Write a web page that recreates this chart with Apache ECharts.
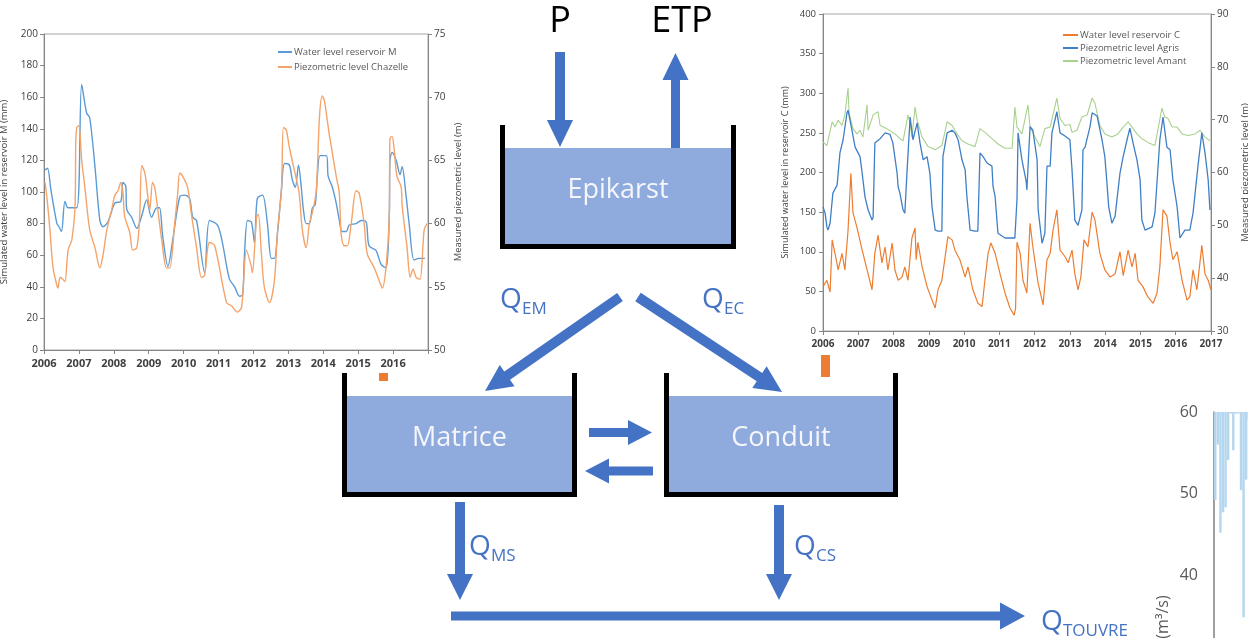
<!DOCTYPE html>
<html><head><meta charset="utf-8">
<script src="https://cdn.jsdelivr.net/npm/echarts@6/dist/echarts.min.js"></script>
<style>html,body{margin:0;padding:0;background:#fff}#c{width:1248px;height:638px}</style>
</head><body><div id="c"></div>
<script>
// ---- Left chart: reservoir M (mm) and Chazelle piezometric level (m)
const resM = [[2006.03,114],[2006.1,115],[2006.2,101],[2006.37,80],[2006.43,78],[2006.5,75],[2006.6,94],[2006.69,90],[2006.94,90],[2007.08,168],[2007.22,150],[2007.31,147],[2007.46,116],[2007.6,82],[2007.69,78],[2007.83,81],[2008.03,93],[2008.2,94],[2008.26,106],[2008.34,104],[2008.37,89],[2008.51,84],[2008.66,77],[2008.8,85],[2008.94,95],[2009.08,84],[2009.23,90],[2009.31,90],[2009.4,72],[2009.55,53],[2009.69,70],[2009.89,97],[2010.03,98],[2010.17,96],[2010.26,84],[2010.37,82],[2010.6,49],[2010.74,82],[2010.97,79],[2011.11,68],[2011.31,45],[2011.46,40],[2011.6,34],[2011.69,35],[2011.74,59],[2011.83,82],[2011.94,81],[2012.03,68],[2012.11,96],[2012.26,98],[2012.4,80],[2012.51,58],[2012.6,58],[2012.69,74],[2012.8,101],[2012.89,118],[2013.03,117],[2013.11,108],[2013.2,103],[2013.29,117],[2013.37,103],[2013.43,89],[2013.51,80],[2013.6,80],[2013.69,90],[2013.77,92],[2013.83,110],[2013.91,123],[2014.09,123],[2014.14,110],[2014.26,103],[2014.37,93],[2014.46,82],[2014.54,75],[2014.66,75],[2014.74,79],[2014.94,80],[2015.09,82],[2015.23,81],[2015.31,66],[2015.51,63],[2015.66,54],[2015.8,52],[2015.89,84],[2015.91,120],[2015.97,125],[2016.09,120],[2016.2,111],[2016.26,116],[2016.37,98],[2016.46,80],[2016.6,57],[2016.74,58],[2016.91,58]];
const chazelle = [[2006.03,63.25],[2006.09,61.9],[2006.17,59.5],[2006.26,56.5],[2006.37,55.1],[2006.4,54.9],[2006.46,55.75],[2006.54,55.6],[2006.6,55.4],[2006.69,57.9],[2006.8,58.75],[2006.89,61.4],[2006.91,66.4],[2006.94,67.6],[2007.0,67.75],[2007.08,65],[2007.17,62.9],[2007.31,59.5],[2007.46,58.1],[2007.6,56.5],[2007.69,57.5],[2007.8,59.5],[2007.94,61.1],[2008.03,62.25],[2008.12,62.6],[2008.2,63.25],[2008.26,62.5],[2008.31,60.6],[2008.46,59.25],[2008.54,57.9],[2008.66,58.1],[2008.74,60.5],[2008.8,64.6],[2008.89,64],[2008.97,62.25],[2009.03,61.1],[2009.11,63.25],[2009.17,62.9],[2009.26,61.1],[2009.37,58.75],[2009.51,56.5],[2009.6,56.5],[2009.74,59.9],[2009.83,62.4],[2009.89,64],[2009.97,63.75],[2010.11,62.9],[2010.23,60.6],[2010.37,58.1],[2010.51,55.75],[2010.6,55.9],[2010.69,58.1],[2010.74,58.5],[2010.89,58.25],[2011.23,53.75],[2011.37,53.5],[2011.54,53],[2011.66,53.4],[2011.8,57.9],[2011.94,56.6],[2011.97,56.1],[2012.09,60.5],[2012.14,60.75],[2012.23,57.5],[2012.31,55],[2012.46,53.75],[2012.6,55.5],[2012.69,59.4],[2012.8,62.6],[2012.86,67.6],[2012.94,67.4],[2013.03,66],[2013.23,63.5],[2013.31,62.4],[2013.4,59.5],[2013.51,58.1],[2013.6,60],[2013.69,60.9],[2013.8,62.6],[2013.89,68.4],[2013.97,70.1],[2014.03,69.75],[2014.17,67.1],[2014.26,65.6],[2014.37,63.75],[2014.46,62.4],[2014.51,59.25],[2014.6,58.25],[2014.69,58.25],[2014.8,60],[2014.94,62.6],[2015.03,62.4],[2015.17,60],[2015.26,57.6],[2015.46,56.5],[2015.6,55.5],[2015.69,54.9],[2015.8,56.6],[2015.89,60.5],[2015.91,66.75],[2015.97,66.9],[2016.03,65.9],[2016.11,63.75],[2016.23,62.9],[2016.26,61.4],[2016.4,58.1],[2016.49,55.75],[2016.57,56.4],[2016.66,55.75],[2016.77,55.6],[2016.89,59.5],[2016.97,60]];
// ---- Right chart: reservoir C (mm), Agris and Amant piezometric levels (m)
const resC = [[2006.0,56],[2006.11,64],[2006.2,49],[2006.26,115],[2006.34,98],[2006.43,77],[2006.54,98],[2006.62,77],[2006.71,127],[2006.79,199],[2006.85,149],[2006.96,131],[2007.11,102],[2007.25,77],[2007.39,52],[2007.47,98],[2007.56,121],[2007.67,86],[2007.76,106],[2007.84,77],[2007.96,111],[2008.04,77],[2008.13,64],[2008.24,68],[2008.32,81],[2008.41,64],[2008.52,117],[2008.61,130],[2008.64,90],[2008.69,112],[2008.81,81],[2008.95,56],[2009.09,39],[2009.18,29],[2009.26,52],[2009.37,64],[2009.46,93],[2009.54,119],[2009.66,115],[2009.74,102],[2009.88,90],[2010.03,68],[2010.11,81],[2010.25,52],[2010.39,35],[2010.51,31],[2010.59,64],[2010.68,98],[2010.76,111],[2010.88,98],[2011.02,72],[2011.16,48],[2011.3,29],[2011.42,20],[2011.46,29],[2011.5,112],[2011.59,98],[2011.67,64],[2011.78,48],[2011.87,136],[2011.95,106],[2012.1,60],[2012.24,33],[2012.35,90],[2012.44,98],[2012.52,127],[2012.63,153],[2012.72,102],[2012.86,94],[2012.95,86],[2013.06,102],[2013.14,72],[2013.23,52],[2013.31,68],[2013.4,115],[2013.51,106],[2013.63,150],[2013.71,140],[2013.85,98],[2013.99,77],[2014.14,68],[2014.28,72],[2014.42,100],[2014.51,70],[2014.65,102],[2014.76,81],[2014.85,98],[2014.93,64],[2015.07,56],[2015.21,43],[2015.36,35],[2015.47,48],[2015.55,81],[2015.64,153],[2015.75,145],[2015.84,111],[2015.92,90],[2016.04,100],[2016.18,64],[2016.32,39],[2016.4,43],[2016.49,77],[2016.6,52],[2016.74,108],[2016.83,72],[2016.92,64],[2017.0,52]];
const agris = [[2006.0,53.5],[2006.06,52.3],[2006.11,49.7],[2006.14,49.1],[2006.2,50.4],[2006.28,56.1],[2006.4,57.6],[2006.48,63.7],[2006.57,66.2],[2006.68,71.3],[2006.71,71.8],[2006.82,68],[2006.91,64.8],[2007.05,63],[2007.11,59.9],[2007.19,55.4],[2007.28,52.9],[2007.39,51],[2007.42,51.5],[2007.47,65.6],[2007.62,66.4],[2007.76,67.5],[2007.9,67.2],[2007.98,65.6],[2008.1,59.9],[2008.13,57.3],[2008.18,56.1],[2008.27,52.9],[2008.32,52.3],[2008.38,59.9],[2008.47,70.5],[2008.55,66.2],[2008.67,69.4],[2008.75,65.6],[2008.84,62.4],[2008.95,63],[2009.03,59.9],[2009.09,53.5],[2009.18,49.1],[2009.26,48.9],[2009.37,48.9],[2009.4,63],[2009.52,67.5],[2009.66,68],[2009.74,67.5],[2009.83,66.2],[2009.94,62.4],[2010.03,60.5],[2010.08,55.4],[2010.17,49.1],[2010.31,48.9],[2010.39,48.9],[2010.45,63.7],[2010.54,63],[2010.65,61.8],[2010.79,61.2],[2010.82,57.4],[2010.88,55.4],[2010.96,48.5],[2011.16,47.6],[2011.44,47.6],[2011.5,55],[2011.53,67.5],[2011.64,62.4],[2011.76,58.3],[2011.78,56.7],[2011.87,68.7],[2011.95,68],[2012.07,62.4],[2012.1,52.9],[2012.21,46.6],[2012.29,48.5],[2012.35,61.2],[2012.44,61.2],[2012.49,67.5],[2012.63,71.5],[2012.72,67.5],[2012.86,66.9],[2013.0,66.2],[2013.06,60.5],[2013.14,51],[2013.23,50],[2013.34,52.9],[2013.37,64.3],[2013.43,64.8],[2013.57,68.7],[2013.63,71.3],[2013.77,70.7],[2013.91,66.2],[2013.99,63],[2014.05,58],[2014.1,53.5],[2014.19,50.4],[2014.28,51.7],[2014.42,59.9],[2014.51,63],[2014.62,66.2],[2014.7,68.4],[2014.79,65.6],[2014.9,62.4],[2014.99,58.6],[2015.04,51],[2015.13,49.1],[2015.33,49.7],[2015.41,52.3],[2015.55,66.2],[2015.64,70.5],[2015.75,64.8],[2015.84,64.3],[2015.92,58.6],[2016.04,53.5],[2016.12,47.6],[2016.26,49.1],[2016.4,49.1],[2016.49,52.3],[2016.63,61.2],[2016.74,67.5],[2016.83,63.7],[2016.92,58.6],[2016.97,52.9]];
const amant = [[2006.0,65.8],[2006.11,65.1],[2006.26,69.6],[2006.34,68.6],[2006.43,69.9],[2006.54,68.9],[2006.62,70.9],[2006.71,76.0],[2006.74,71.3],[2006.85,68.3],[2006.96,67.3],[2007.05,68],[2007.13,66.7],[2007.25,72.8],[2007.28,68],[2007.42,70.9],[2007.56,71.5],[2007.62,68.9],[2007.81,68.3],[2008.04,67.3],[2008.18,66.4],[2008.27,66],[2008.41,70.9],[2008.47,69.3],[2008.52,66.7],[2008.61,72.4],[2008.67,69.9],[2008.81,66.7],[2008.98,64.9],[2009.18,64.3],[2009.37,65.1],[2009.52,69.6],[2009.66,68.9],[2009.8,67.3],[2009.94,66],[2010.11,65.4],[2010.31,64.9],[2010.45,68.3],[2010.59,67.6],[2010.79,66.4],[2010.96,65.4],[2011.16,64.6],[2011.36,64.6],[2011.44,72.4],[2011.5,68.6],[2011.64,67.3],[2011.81,72.8],[2011.87,68.6],[2012.01,66.7],[2012.15,64.9],[2012.29,68.3],[2012.44,68.6],[2012.52,70.9],[2012.63,74.1],[2012.72,70.2],[2012.86,68.9],[2013.0,69.1],[2013.06,67.6],[2013.2,68],[2013.34,70.5],[2013.49,70.9],[2013.63,74.1],[2013.71,73.1],[2013.85,68.9],[2013.99,67.3],[2014.19,66.7],[2014.36,67.3],[2014.51,68.6],[2014.65,69.6],[2014.76,68.6],[2014.9,67.3],[2015.04,66.4],[2015.21,65.7],[2015.41,65.1],[2015.61,72.2],[2015.69,70.5],[2015.78,70.2],[2015.9,68.6],[2016.04,68.6],[2016.18,67.3],[2016.35,67],[2016.55,67.3],[2016.69,68],[2016.83,66.7],[2016.97,66]];
// ---- Partial discharge chart (right edge): bars hanging from 60
const flowCats = ['1','2','3','4','5','6','7','8','9','10','11','12','13','14'];
const flowBottom = [49.2,56.0,45.2,47.7,48.3,54.1,59.8,55.3,59.8,59.8,50.4,34.8,51.7,59.0];
const flowTopValue = 60;

const BLUE='#4472C4', FILL='#8FAADC', TXT='#404040';
const F='"Open Sans", "Liberation Sans", sans-serif';

function arrow(x0,y0,x1,y1,sw,hw,hl){
  const dx=x1-x0, dy=y1-y0, L=Math.hypot(dx,dy), ux=dx/L, uy=dy/L, nx=-uy, ny=ux;
  const bx=x1-ux*hl, by=y1-uy*hl;
  return {type:'polygon', silent:true, shape:{points:[
    [x0+nx*sw,y0+ny*sw],[bx+nx*sw,by+ny*sw],[bx+nx*hw,by+ny*hw],[x1,y1],
    [bx-nx*hw,by-ny*hw],[bx-nx*sw,by-ny*sw],[x0-nx*sw,y0-ny*sw]]}, style:{fill:BLUE}};
}
function rect(x,y,w,h,fill){return {type:'rect',silent:true,shape:{x,y,width:w,height:h},style:{fill}};}
function tank(x0,x1,yTop,yFill,yBot,label){
  const t=5;
  return [
    rect(x0+t,yFill,x1-x0-2*t,yBot-t-yFill,FILL),
    rect(x0,yTop,t,yBot-yTop,'#000'),
    rect(x1-t,yTop,t,yBot-yTop,'#000'),
    rect(x0,yBot-t,x1-x0,t,'#000'),
    {type:'text',silent:true,style:{text:label,x:(x0+x1)/2,y:(yFill+yBot-t)/2-6,align:'center',verticalAlign:'middle',fill:'#F4F6FB',font:'27px '+F}}
  ];
}
function txt(s,x,y,size,color,align){return {type:'text',silent:true,style:{text:s,x,y,align:align||'left',verticalAlign:'middle',fill:color,font:size+'px '+F}};}
function qlabel(x,y,sub){return [txt('Q',x,y,28,BLUE),txt(sub,x+22,y+9,17,BLUE)];}

const graphics = [].concat(
  [txt('P',560,22,36,'#000','center'), txt('ETP',682,22,36,'#000','center')],
  [arrow(560,52,560,147,5,13,27), arrow(675.5,148,675.5,53,4.5,13,27)],
  tank(500,736,125,148,249,'Epikarst'),
  [arrow(620,297,485,391,5,13,27), arrow(638,297,782,392,5,13,27)],
  qlabel(500,300,'EM'), qlabel(702,300,'EC'),
  tank(342,577,373,396,497,'Matrice'),
  tank(664,898,373,396,497,'Conduit'),
  [arrow(589,432.5,652,432.5,4.5,12.5,24), arrow(653,471,585,471,4.5,12.5,24)],
  [arrow(460,502,460,600,5,13,26), arrow(779,505,779,600,5,13,26)],
  qlabel(469,547,'MS'), qlabel(794,547,'CS'),
  [arrow(451,616,1025,616,4.5,13.5,25)],
  qlabel(1041,622,'TOUVRE'),
  [rect(379,373,9,8,'#ED7D31'), rect(821,355,9,22,'#ED7D31')],
  [{type:'text',silent:true,rotation:Math.PI/2,x:1163,y:617,style:{text:'(m³/s)',align:'center',verticalAlign:'middle',fill:'#595959',font:'16px '+F}}]
);

const axLine={lineStyle:{color:'#868686'}};
const tick={show:true,length:4,lineStyle:{color:'#868686'}};
const option = {
  animation:false,
  backgroundColor:'#fff',
  textStyle:{fontFamily:F},
  grid:[
    {left:44,top:34,width:384,height:316,show:true,borderColor:'#a6a6a6',borderWidth:1,backgroundColor:'transparent',outerBoundsMode:'none',containLabel:false},
    {left:823,top:14,width:388,height:317,show:true,borderColor:'#a6a6a6',borderWidth:1,backgroundColor:'transparent',outerBoundsMode:'none',containLabel:false},
    {left:1214,top:412,width:36,height:244.5,outerBoundsMode:'none',containLabel:false}
  ],
  legend:[
    {data:['Water level reservoir M','Piezometric level Chazelle'],left:273,top:42,orient:'vertical',itemGap:5,itemWidth:14,itemHeight:2,icon:'rect',textStyle:{fontSize:9.5,color:'#595959',padding:[0,0,0,-3]}},
    {data:['Water level reservoir C','Piezometric level Agris','Piezometric level Amant'],left:1058,top:25,orient:'vertical',itemGap:3,itemWidth:15,itemHeight:2,icon:'rect',textStyle:{fontSize:9.5,color:'#595959',padding:[0,0,0,-3]}}
  ],
  xAxis:[
    {type:'value',gridIndex:0,min:2006,max:2017,interval:1,axisLine:axLine,axisTick:tick,splitLine:{show:false},
     axisLabel:{fontSize:11,color:TXT,margin:8,fontWeight:'bold',formatter:v=>v===2017?'':String(v)}},
    {type:'value',gridIndex:1,min:2006,max:2017,interval:1,axisLine:axLine,axisTick:tick,splitLine:{show:false},
     axisLabel:{fontSize:10,color:TXT,margin:8,fontWeight:'bold',formatter:v=>String(v)}},
    {type:'category',gridIndex:2,data:flowCats,show:false}
  ],
  yAxis:[
    {type:'value',gridIndex:0,min:0,max:200,interval:20,axisLine:{show:true,...axLine},axisTick:tick,splitLine:{show:false},
     axisLabel:{fontSize:10,color:TXT,margin:6},name:'Simulated water level in reservoir M (mm)',nameLocation:'middle',nameRotate:90,nameGap:35,nameTextStyle:{fontSize:9.5,color:TXT}},
    {type:'value',gridIndex:0,position:'right',min:50,max:75,interval:5,axisLine:{show:true,...axLine},axisTick:tick,splitLine:{show:false},
     axisLabel:{fontSize:10,color:TXT,margin:6},name:'Measured piezometric level (m)',nameLocation:'middle',nameRotate:90,nameGap:25,nameTextStyle:{fontSize:9.5,color:TXT}},
    {type:'value',gridIndex:1,min:0,max:400,interval:50,axisLine:{show:true,...axLine},axisTick:tick,splitLine:{show:false},
     axisLabel:{fontSize:9.5,color:TXT,margin:7},name:'Simulated water level in reservoir C (mm)',nameLocation:'middle',nameRotate:90,nameGap:33,nameTextStyle:{fontSize:9,color:TXT}},
    {type:'value',gridIndex:1,position:'right',min:30,max:90,interval:10,axisLine:{show:true,...axLine},axisTick:tick,splitLine:{show:false},
     axisLabel:{fontSize:10,color:TXT,margin:6},name:'Measured piezometric level (m)',nameLocation:'middle',nameRotate:90,nameGap:29,nameTextStyle:{fontSize:9.5,color:TXT}},
    {type:'value',gridIndex:2,min:30,max:60,interval:10,axisLine:{show:true,lineStyle:{color:'#7f7f7f',width:1.5}},axisTick:{show:false},splitLine:{show:false},
     axisLabel:{fontSize:16,color:'#595959',margin:16}}
  ],
  series:[
    {name:'Water level reservoir M',type:'line',xAxisIndex:0,yAxisIndex:0,data:resM,showSymbol:false,smooth:0.3,lineStyle:{width:1.4,color:'#5B9BD5'},itemStyle:{color:'#5B9BD5'}},
    {name:'Piezometric level Chazelle',type:'line',xAxisIndex:0,yAxisIndex:1,data:chazelle,showSymbol:false,smooth:0.3,lineStyle:{width:1.4,color:'#F4A46A'},itemStyle:{color:'#F4A46A'}},
    {name:'Piezometric level Amant',type:'line',xAxisIndex:1,yAxisIndex:3,data:amant,showSymbol:false,lineStyle:{width:1.1,color:'#A9D18E'},itemStyle:{color:'#A9D18E'}},
    {name:'Piezometric level Agris',type:'line',xAxisIndex:1,yAxisIndex:3,data:agris,showSymbol:false,lineStyle:{width:1.3,color:'#3F7FC6'},itemStyle:{color:'#3F7FC6'}},
    {name:'Water level reservoir C',type:'line',xAxisIndex:1,yAxisIndex:2,data:resC,showSymbol:false,lineStyle:{width:1.2,color:'#ED7D31'},itemStyle:{color:'#ED7D31'}},
    {type:'bar',xAxisIndex:2,yAxisIndex:4,stack:'q',data:flowBottom,itemStyle:{color:'transparent'},barCategoryGap:'6%',silent:true},
    {type:'bar',xAxisIndex:2,yAxisIndex:4,stack:'q',data:flowBottom.map(v=>flowTopValue-v),itemStyle:{color:'#B4D6EE'},barCategoryGap:'6%',silent:true}
  ],
  graphic:graphics
};
const chart = echarts.init(document.getElementById('c'),null,{renderer:'canvas'});
chart.setOption(option);
</script></body></html>
